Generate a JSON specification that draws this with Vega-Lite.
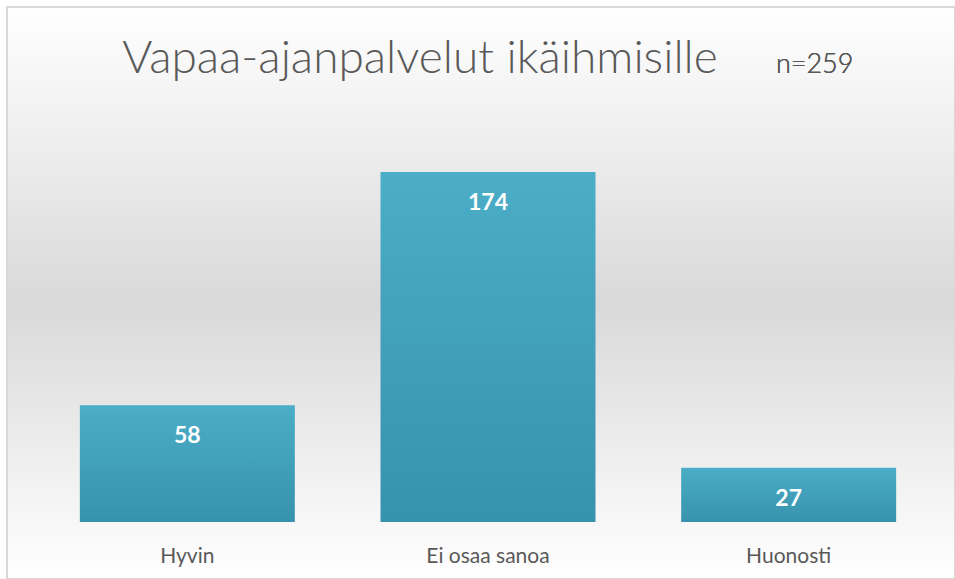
{
  "$schema": "https://vega.github.io/schema/vega-lite/v6.json",
  "width": 948,
  "height": 572,
  "autosize": {"type": "none"},
  "padding": {"left": 7, "top": 7, "right": 0, "bottom": 0},
  "background": "#ffffff",
  "title": {
    "text": "Vapaa-ajanpalvelut ikäihmisille",
    "anchor": "middle",
    "frame": "group",
    "orient": "top",
    "offset": -112,
    "baseline": "alphabetic",
    "dx": -61,
    "font": "Lato",
    "fontSize": 46,
    "fontWeight": 300,
    "color": "#595959"
  },
  "config": {
    "font": "Lato",
    "view": {
      "fill": {
        "gradient": "linear",
        "x1": 0, "y1": 0, "x2": 0, "y2": 1,
        "stops": [
          {"offset": 0, "color": "#ffffff"},
          {"offset": 0.52, "color": "#d9d9d9"},
          {"offset": 1, "color": "#ffffff"}
        ]
      },
      "stroke": "#d9d9d9",
      "strokeWidth": 2
    }
  },
  "data": {
    "values": [
      {"vastaus": "Hyvin", "lkm": 58},
      {"vastaus": "Ei osaa sanoa", "lkm": 174},
      {"vastaus": "Huonosti", "lkm": 27}
    ]
  },
  "encoding": {
    "x": {
      "field": "vastaus",
      "type": "nominal",
      "sort": null,
      "scale": {"range": [30, 932], "paddingInner": 0.285, "paddingOuter": 0.1425},
      "axis": {
        "title": null,
        "labelAngle": 0,
        "domain": false,
        "ticks": false,
        "tickSize": 0,
        "grid": false,
        "labelPadding": 0,
        "offset": -17,
        "labelBaseline": "alphabetic",
        "labelFont": "Lato",
        "labelFontSize": 21,
        "labelFontWeight": "normal",
        "labelColor": "#595959"
      }
    }
  },
  "layer": [
    {
      "mark": {
        "type": "bar",
        "color": {
          "gradient": "linear",
          "x1": 0, "y1": 0, "x2": 0, "y2": 1,
          "stops": [
            {"offset": 0, "color": "#4badc7"},
            {"offset": 1, "color": "#3792ad"}
          ]
        }
      },
      "encoding": {
        "y": {
          "field": "lkm",
          "type": "quantitative",
          "scale": {"domain": [-28.34, 256.1], "nice": false, "zero": false},
          "axis": null
        }
      }
    },
    {
      "mark": {
        "type": "text",
        "baseline": "alphabetic",
        "dy": 38,
        "color": "#ffffff",
        "fontWeight": "bold",
        "fontSize": 23,
        "font": "Lato"
      },
      "encoding": {
        "y": {"field": "lkm", "type": "quantitative"},
        "text": {"field": "lkm", "type": "quantitative"}
      }
    },
    {
      "mark": {
        "type": "text",
        "baseline": "alphabetic",
        "dx": 26,
        "fontSize": 27,
        "fontWeight": 300,
        "color": "#595959",
        "font": "Lato"
      },
      "encoding": {
        "x": {"datum": "Huonosti"},
        "y": {"datum": 223.3},
        "text": {"value": "n=259"}
      }
    }
  ]
}
